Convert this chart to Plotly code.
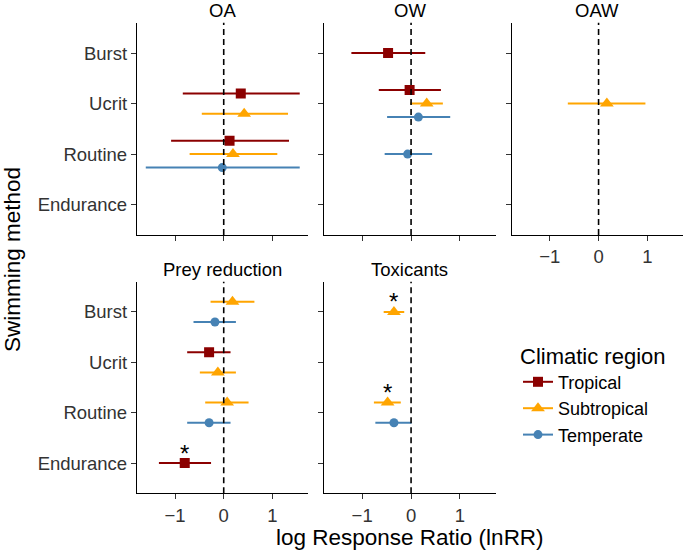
import plotly.graph_objects as go

# ---------------- data ----------------
methods = ["Burst", "Ucrit", "Routine", "Endurance"]
regions = ["Tropical", "Subtropical", "Temperate"]
panels = ["OA", "OW", "OAW", "Prey reduction", "Toxicants"]

panel = ["OA", "OA", "OA", "OA", "OA",
         "OW", "OW", "OW", "OW", "OW",
         "OAW",
         "Prey reduction", "Prey reduction", "Prey reduction", "Prey reduction",
         "Prey reduction", "Prey reduction", "Prey reduction",
         "Toxicants", "Toxicants", "Toxicants"]
method = ["Ucrit", "Ucrit", "Routine", "Routine", "Routine",
          "Burst", "Ucrit", "Ucrit", "Ucrit", "Routine",
          "Ucrit",
          "Burst", "Burst", "Ucrit", "Ucrit", "Routine", "Routine", "Endurance",
          "Burst", "Routine", "Routine"]
region = ["Tropical", "Subtropical", "Tropical", "Subtropical", "Temperate",
          "Tropical", "Tropical", "Subtropical", "Temperate", "Temperate",
          "Subtropical",
          "Subtropical", "Temperate", "Tropical", "Subtropical", "Subtropical", "Temperate", "Tropical",
          "Subtropical", "Subtropical", "Temperate"]
est = [0.35, 0.42, 0.12, 0.19, -0.03,
       -0.47, -0.03, 0.32, 0.15, -0.07,
       0.17,
       0.18, -0.18, -0.30, -0.12, 0.07, -0.30, -0.80,
       -0.35, -0.48, -0.35]
lo = [-0.84, -0.45, -1.08, -0.70, -1.60,
      -1.22, -0.66, -0.02, -0.49, -0.54,
      -0.63,
      -0.27, -0.62, -0.75, -0.49, -0.38, -0.75, -1.33,
      -0.56, -0.76, -0.73]
hi = [1.56, 1.32, 1.34, 1.10, 1.56,
      0.29, 0.61, 0.65, 0.80, 0.43,
      0.96,
      0.63, 0.25, 0.14, 0.25, 0.51, 0.14, -0.26,
      -0.14, -0.21, 0.01]
sig = [False, False, False, False, False,
       False, False, False, False, False,
       False,
       False, False, False, False, False, False, True,
       True, True, False]

# ---------------- styles ----------------
colors = {"Tropical": "#8B0000", "Subtropical": "#FFA500", "Temperate": "#4682B4"}
symbols = {"Tropical": "square", "Subtropical": "triangle-up", "Temperate": "circle"}
msize = {"Tropical": 10, "Subtropical": 12, "Temperate": 9}
FONT = "Liberation Sans, Arial, sans-serif"
W, H = 685, 552

# panel pixel boxes (left, right, top, bottom)
boxes = {
    "OA": (137, 308, 22.7, 235),
    "OW": (324, 495.7, 22.7, 235),
    "OAW": (511.7, 683, 22.7, 235),
    "Prey reduction": (137, 308, 281.7, 493.3),
    "Toxicants": (324, 495.7, 281.7, 493.3),
}
axis_id = {p: ("" if i == 0 else str(i + 1)) for i, p in enumerate(panels)}
ylab_panels = {"OA", "Prey reduction"}
xlab_panels = {"OAW", "Prey reduction", "Toxicants"}

# dodge positions (width 0.8)
ypos = []
for i in range(len(est)):
    grp = [r for r in regions
           if any(panel[j] == panel[i] and method[j] == method[i] and region[j] == r
                  for j in range(len(est)))]
    n = len(grp)
    k = grp.index(region[i])
    ypos.append(methods.index(method[i]) + 1 + (k - (n - 1) / 2) * 0.8 / n)

fig = go.Figure()
layout = dict()
shapes = []
annotations = []

for p in panels:
    a = axis_id[p]
    l, r, t, b = boxes[p]
    layout["xaxis" + a] = dict(
        domain=[l / W, r / W], range=[-1.78, 1.73], anchor="y" + a,
        tickvals=[-1, 0, 1], showticklabels=p in xlab_panels,
        ticks="outside", ticklen=5, tickwidth=1.2, tickcolor="#333",
        showline=True, linecolor="black", linewidth=1.3,
        showgrid=False, zeroline=False,
        tickfont=dict(size=18.5, color="#333", family=FONT),
    )
    layout["yaxis" + a] = dict(
        domain=[1 - b / H, 1 - t / H], range=[4.6, 0.4], anchor="x" + a,
        tickvals=[1, 2, 3, 4], ticktext=methods, showticklabels=p in ylab_panels,
        ticks="outside", ticklen=5, tickwidth=1.2, tickcolor="#333",
        showline=True, linecolor="black", linewidth=1.3,
        showgrid=False, zeroline=False,
        tickfont=dict(size=18.5, color="#333", family=FONT),
    )
    shapes.append(dict(type="line", xref="x" + a, yref="y" + a + " domain",
                       x0=0, x1=0, y0=0, y1=1,
                       line=dict(color="black", width=1.6, dash="6px,4px")))
    annotations.append(dict(text=p, xref="paper", yref="paper",
                            x=(l + r) / 2 / W, y=1 - (t - 12) / H,
                            xanchor="center", yanchor="middle", showarrow=False,
                            font=dict(size=18.5, color="black", family=FONT)))

    for reg in regions:
        idx = [i for i in range(len(est)) if panel[i] == p and region[i] == reg]
        if not idx:
            continue
        fig.add_trace(go.Scatter(
            x=[est[i] for i in idx], y=[ypos[i] for i in idx],
            xaxis="x" + a, yaxis="y" + a, mode="markers", showlegend=False,
            marker=dict(symbol=symbols[reg], size=msize[reg], color=colors[reg]),
            error_x=dict(type="data", symmetric=False,
                         array=[hi[i] - est[i] for i in idx],
                         arrayminus=[est[i] - lo[i] for i in idx],
                         color=colors[reg], thickness=2, width=0),
        ))
        for i in idx:
            if sig[i]:
                annotations.append(dict(text="*", xref="x" + a, yref="y" + a,
                                        x=est[i], y=ypos[i], yshift=10,
                                        xanchor="center", yanchor="middle",
                                        showarrow=False,
                                        font=dict(size=24, color="black", family=FONT)))

# legend entries
for reg in regions:
    fig.add_trace(go.Scatter(
        x=[None], y=[None], mode="lines+markers", name=reg,
        marker=dict(symbol=symbols[reg], size=msize[reg], color=colors[reg]),
        line=dict(color=colors[reg], width=2),
    ))

annotations.append(dict(text="log Response Ratio (lnRR)", xref="paper", yref="paper",
                        x=410 / W, y=1 - 537 / H, xanchor="center", yanchor="middle",
                        showarrow=False, font=dict(size=22.5, color="black", family=FONT)))
annotations.append(dict(text="Swimming method", xref="paper", yref="paper",
                        x=12 / W, y=1 - 260 / H, xanchor="center", yanchor="middle",
                        textangle=-90, showarrow=False,
                        font=dict(size=22.5, color="black", family=FONT)))

fig.update_layout(
    width=W, height=H, margin=dict(l=0, r=0, t=0, b=0),
    paper_bgcolor="white", plot_bgcolor="white",
    font=dict(family=FONT, color="black"),
    shapes=shapes, annotations=annotations,
    legend=dict(x=518 / W, y=1 - 335 / H, xanchor="left", yanchor="top",
                title=dict(text="Climatic region", font=dict(size=22, family=FONT)),
                font=dict(size=18, family=FONT), tracegroupgap=0,
                bgcolor="rgba(0,0,0,0)"),
    **layout,
)

fig.write_html("out.html", config={"displayModeBar": False},
               post_script="document.body.style.margin='0';document.body.style.overflow='hidden';")
